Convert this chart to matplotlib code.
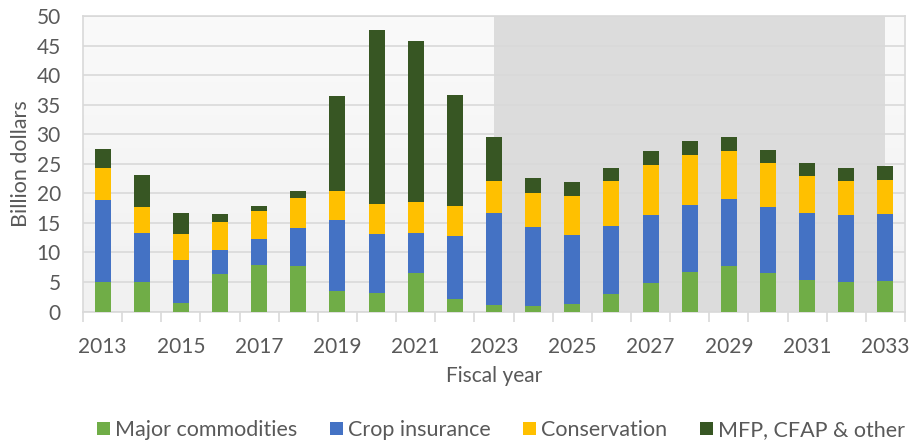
import numpy as np
import matplotlib
matplotlib.use('Agg')
import matplotlib.pyplot as plt
from matplotlib.colors import LinearSegmentedColormap

years = list(range(2013, 2034))
major_commodities = [5.0, 5.0, 1.4, 6.35, 7.85, 7.65, 3.4, 3.2, 6.55, 2.1, 1.15,
                     1.0, 1.25, 2.95, 4.9, 6.65, 7.75, 6.45, 5.25, 5.0, 5.15]
crop_insurance = [13.8, 8.25, 7.3, 4.1, 4.35, 6.5, 12.0, 9.9, 6.7, 10.75, 15.6,
                  13.35, 11.7, 11.55, 11.35, 11.3, 11.3, 11.3, 11.35, 11.35, 11.3]
conservation = [5.45, 4.5, 4.45, 4.65, 4.75, 5.05, 4.95, 5.1, 5.35, 5.0, 5.25,
                5.75, 6.6, 7.6, 8.6, 8.5, 8.15, 7.3, 6.25, 5.75, 5.8]
mfp_other = [3.25, 5.4, 3.5, 1.4, 0.95, 1.2, 16.1, 29.45, 27.2, 18.7, 7.45,
             2.5, 2.4, 2.25, 2.35, 2.35, 2.35, 2.3, 2.3, 2.25, 2.3]

series = [
    ('Major commodities', major_commodities, '#70ad47'),
    ('Crop insurance', crop_insurance, '#4472c4'),
    ('Conservation', conservation, '#ffc000'),
    ('MFP, CFAP & other', mfp_other, '#375623'),
]

plt.rcParams['font.family'] = ['Lato', 'DejaVu Sans']
txt = '#595959'
grid_c = '#d9d9d9'

fig = plt.figure(figsize=(9.09, 4.44), dpi=100)
ax = fig.add_axes([0.0913, 0.2984, 0.9043, 0.6656])

# gradient plot background
grad = np.linspace(0, 1, 256).reshape(-1, 1)
cmap = LinearSegmentedColormap.from_list('bg', ['#fafafa', '#f1f1f1'])
ax.imshow(grad, extent=[0, 1, 0, 1], transform=ax.transAxes, aspect='auto',
          cmap=cmap, zorder=0)

x = np.arange(len(years))
# projection shading from 2023 to 2033
ax.axvspan(years.index(2023), years.index(2033), color='#dcdcdc', zorder=0.5, lw=0)

bottom = np.zeros(len(years))
for name, vals, col in series:
    ax.bar(x, vals, 0.41, bottom=bottom, color=col, label=name, zorder=3, lw=0)
    bottom += np.array(vals)

ax.set_xlim(-0.5, len(years) - 0.5)
ax.set_ylim(0, 50)
ax.set_yticks(range(0, 51, 5))
ax.yaxis.grid(True, color=grid_c, lw=1.2, zorder=1)
ax.set_axisbelow(True)

ax.set_xticks(x[::2])
ax.set_xticklabels([str(y) for y in years[::2]])
ax.set_xticks(np.arange(-0.5, len(years), 1), minor=True)
ax.tick_params(axis='x', which='major', length=0, pad=18, labelsize=15, colors=txt)
ax.tick_params(axis='x', which='minor', length=7, width=1.2, color=grid_c)
ax.tick_params(axis='y', length=0, pad=16, labelsize=15, colors=txt)

for s in ax.spines.values():
    s.set_color(grid_c)
    s.set_linewidth(1.2)

ax.set_ylabel('Billion dollars', fontsize=15.5, color=txt, labelpad=4)
ax.set_xlabel('Fiscal year', fontsize=15, color=txt, labelpad=7)

leg = fig.legend(loc='lower center', bbox_to_anchor=(0.551, -0.035), ncol=4,
                 frameon=False, fontsize=15.5, handlelength=0.6, handleheight=0.6,
                 handletextpad=0.25, columnspacing=1.5, labelcolor=txt)

fig.savefig('out.png', dpi=100)
